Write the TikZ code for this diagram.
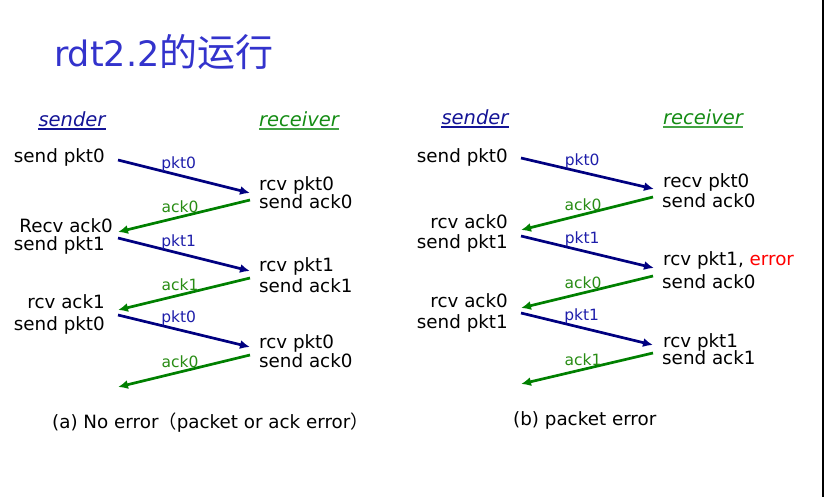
\documentclass[tikz,border=0pt]{standalone}
\usepackage{fontspec}
\setmainfont{DejaVu Sans}
\newfontfamily\cjk{Noto Sans CJK SC}
\usetikzlibrary{arrows.meta}

\definecolor{titleblue}{RGB}{51,51,204}
\definecolor{sendblue}{RGB}{20,20,150}
\definecolor{pktblue}{RGB}{0,0,128}
\definecolor{lblblue}{RGB}{30,30,170}
\definecolor{ackgreen}{RGB}{0,128,0}
\definecolor{lblgreen}{RGB}{40,140,20}
\definecolor{rcvgreen}{RGB}{20,140,20}
\definecolor{errred}{RGB}{255,0,0}

\newcommand{\bodyfont}{\fontsize{18.3}{20}\selectfont}
\newcommand{\lblfont}{\fontsize{15.5}{17}\selectfont}
\newcommand{\rolefont}{\fontsize{19.5}{22}\selectfont\itshape}

\begin{document}
\begin{tikzpicture}[x=1pt,y=-1pt,
    sndtxt/.style={anchor=base east,inner sep=0,font=\bodyfont},
    rcvtxt/.style={anchor=base west,inner sep=0,font=\bodyfont},
    role/.style={anchor=base,inner sep=0,font=\rolefont},
    pkt/.style={draw=pktblue,line width=2.7pt,-{Latex[length=10pt,width=9pt]}},
    ack/.style={draw=ackgreen,line width=2.7pt,-{Latex[length=10pt,width=9pt]}},
    pktlbl/.style={above,pos=0.46,inner sep=2.5pt,text=lblblue,font=\lblfont},
    acklbl/.style={above,pos=0.53,inner sep=2.5pt,text=lblgreen,font=\lblfont}]
    \useasboundingbox (0,0) rectangle (826,497);

    \node[anchor=base west,inner sep=0,text=titleblue,font=\fontsize{35}{40}\selectfont] (title) at (54,67) {rdt2.2{\cjk\fontsize{38}{40}\selectfont 的运行}};

    % (a) no error
    \node[role,text=sendblue] (hsa) at (72,127) {sender};
    \node[role,text=rcvgreen] (hra) at (299,127) {receiver};
    \draw[sendblue,line width=1.2pt] ([yshift=-2pt]hsa.base west) -- ([yshift=-2pt]hsa.base east);
    \draw[rcvgreen!80,line width=1.2pt] ([yshift=-2pt]hra.base west) -- ([yshift=-2pt]hra.base east);

    \node[sndtxt] (sa0) at (105,163) {send pkt0};
    \node[sndtxt] (sa1) at (113,232) {Recv ack0};
    \node[sndtxt] (sa2) at (105,250) {send pkt1};
    \node[sndtxt] (sa3) at (105,308) {rcv ack1};
    \node[sndtxt] (sa4) at (105,330) {send pkt0};
    \node[rcvtxt] (ra0) at (259,190) {rcv pkt0};
    \node[rcvtxt] (ra1) at (259,208) {send ack0};
    \node[rcvtxt] (ra2) at (259,271) {rcv pkt1};
    \node[rcvtxt] (ra3) at (259,292) {send ack1};
    \node[rcvtxt] (ra4) at (259,348) {rcv pkt0};
    \node[rcvtxt] (ra5) at (259,367) {send ack0};

    \coordinate (a0s) at (118,160); \coordinate (a0r) at (250,193);
    \coordinate (a1r) at (250,200); \coordinate (a1s) at (118,232);
    \coordinate (a2s) at (118,238); \coordinate (a2r) at (250,271);
    \coordinate (a3r) at (250,278); \coordinate (a3s) at (118,310);
    \coordinate (a4s) at (118,315); \coordinate (a4r) at (250,347);
    \coordinate (a5r) at (250,355); \coordinate (a5s) at (118,387);

    \path (a0s) edge [pkt] node [pktlbl] {pkt0} (a0r);
    \path (a1r) edge [ack] node [acklbl] {ack0} (a1s);
    \path (a2s) edge [pkt] node [pktlbl] {pkt1} (a2r);
    \path (a3r) edge [ack] node [acklbl] {ack1} (a3s);
    \path (a4s) edge [pkt] node [pktlbl] {pkt0} (a4r);
    \path (a5r) edge [ack] node [acklbl] {ack0} (a5s);

    \node[anchor=base west,inner sep=0,font=\bodyfont] (capa) at (52,428) {(a) No error{\cjk （}packet or ack error{\cjk ）}};

    % (b) packet error
    \node[role,text=sendblue] (hsb) at (475,125) {sender};
    \node[role,text=rcvgreen] (hrb) at (703,125) {receiver};
    \draw[sendblue,line width=1.2pt] ([yshift=-2pt]hsb.base west) -- ([yshift=-2pt]hsb.base east);
    \draw[rcvgreen!80,line width=1.2pt] ([yshift=-2pt]hrb.base west) -- ([yshift=-2pt]hrb.base east);

    \node[sndtxt] (sb0) at (508,162) {send pkt0};
    \node[sndtxt] (sb1) at (508,228) {rcv ack0};
    \node[sndtxt] (sb2) at (508,248) {send pkt1};
    \node[sndtxt] (sb3) at (508,307) {rcv ack0};
    \node[sndtxt] (sb4) at (508,328) {send pkt1};
    \node[rcvtxt] (rb0) at (663,187) {recv pkt0};
    \node[rcvtxt] (rb1) at (662,207) {send ack0};
    \node[rcvtxt] (rb2) at (663,265) {rcv pkt1, \textcolor{errred}{error}};
    \node[rcvtxt] (rb3) at (662,288) {send ack0};
    \node[rcvtxt] (rb4) at (663,347) {rcv pkt1};
    \node[rcvtxt] (rb5) at (662,364) {send ack1};

    \coordinate (b0s) at (521,158); \coordinate (b0r) at (654,189);
    \coordinate (b1r) at (653,197); \coordinate (b1s) at (521,230);
    \coordinate (b2s) at (521,236); \coordinate (b2r) at (654,268);
    \coordinate (b3r) at (653,276); \coordinate (b3s) at (521,308);
    \coordinate (b4s) at (521,313); \coordinate (b4r) at (653,345);
    \coordinate (b5r) at (653,353); \coordinate (b5s) at (521,384);

    \path (b0s) edge [pkt] node [pktlbl] {pkt0} (b0r);
    \path (b1r) edge [ack] node [acklbl] {ack0} (b1s);
    \path (b2s) edge [pkt] node [pktlbl] {pkt1} (b2r);
    \path (b3r) edge [ack] node [acklbl] {ack0} (b3s);
    \path (b4s) edge [pkt] node [pktlbl] {pkt1} (b4r);
    \path (b5r) edge [ack] node [acklbl] {ack1} (b5s);

    \node[anchor=base west,inner sep=0,font=\bodyfont] (capb) at (513,425) {(b) packet error};

    \coordinate (rimtop) at (823,0);
    \coordinate (rimbot) at (823,497);
    \draw[line width=1.5pt] (rimtop) -- (rimbot);
\end{tikzpicture}
\end{document}
